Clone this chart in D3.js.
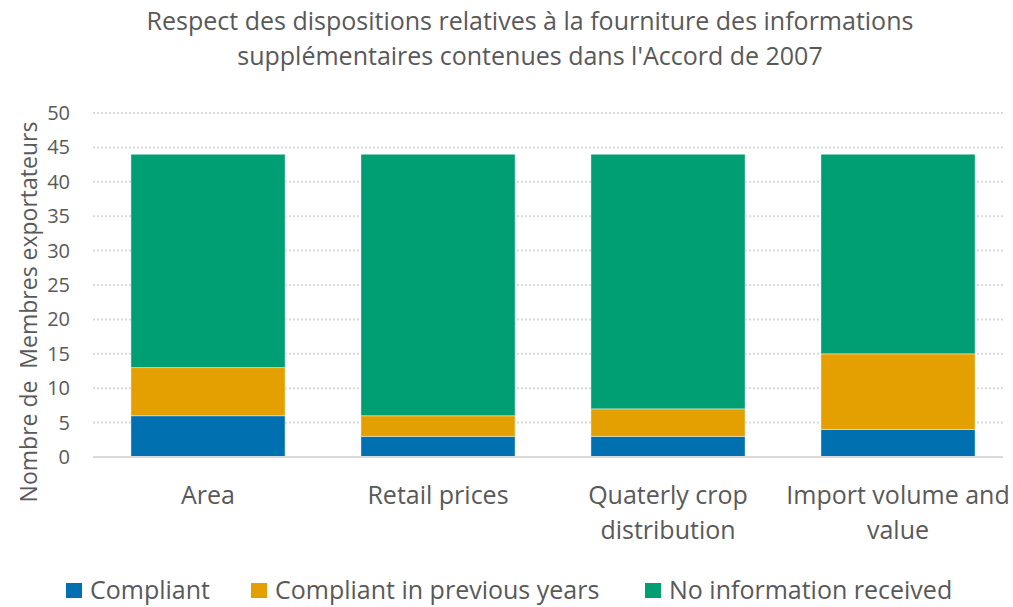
<!DOCTYPE html>
<html>
<head>
<meta charset="utf-8">
<script src="https://cdn.jsdelivr.net/npm/d3@7"></script>
<style>
  body { margin: 0; background: #fff; }
  svg text { font-family: "Open Sans", sans-serif; fill: #595959; }
</style>
</head>
<body>
<div id="chart"></div>
<script>
var categories = [["Area"], ["Retail prices"], ["Quaterly crop", "distribution"], ["Import volume and", "value"]];
var seriesNames = ["Compliant", "Compliant in previous years", "No information received"];
var compliant = [6, 3, 3, 4];
var compliantPrevious = [7, 3, 4, 11];
var noInformation = [31, 38, 37, 29];
var yTicks = [0, 5, 10, 15, 20, 25, 30, 35, 40, 45, 50];
var colors = ["#0070B0", "#E3A000", "#009E73"];

var width = 1013, height = 607;
var svg = d3.select("#chart").append("svg")
  .attr("width", width)
  .attr("height", height);

// title
svg.append("text")
  .attr("text-anchor", "middle")
  .style("font-size", "25px")
  .selectAll("tspan")
  .data(["Respect des dispositions relatives à la fourniture des informations",
         "supplémentaires contenues dans l'Accord de 2007"])
  .enter().append("tspan")
    .attr("x", 530)
    .attr("y", function(d, i){ return 30 + i * 35; })
    .text(function(d){ return d; });

var x = d3.scaleBand()
  .domain(d3.range(categories.length))
  .range([93, 1013])
  .paddingInner(0.33)
  .paddingOuter(0.165);

var y = d3.scaleLinear().domain([0, 50]).range([457, 113]);

// gridlines
svg.append("g").selectAll("line")
  .data(yTicks.filter(function(d){ return d > 0; }))
  .enter().append("line")
    .attr("x1", 93).attr("x2", 1003)
    .attr("y1", function(d){ return y(d); })
    .attr("y2", function(d){ return y(d); })
    .attr("stroke", "#d9d9d9")
    .attr("stroke-width", 2)
    .attr("stroke-dasharray", "2,2");

// y tick labels
svg.append("g").selectAll("text")
  .data(yTicks)
  .enter().append("text")
    .attr("x", 70)
    .attr("y", function(d){ return y(d); })
    .attr("dy", "0.35em")
    .attr("text-anchor", "end")
    .style("font-size", "20px")
    .text(function(d){ return d; });

// y axis title
svg.append("text")
  .attr("transform", "translate(29,312) rotate(-90)")
  .attr("text-anchor", "middle")
  .attr("dy", "0.35em")
  .style("font-size", "23px")
  .attr("xml:space", "preserve")
  .text("Nombre de  Membres exportateurs");

// stacked bars
var rows = categories.map(function(c, i){
  return {i: i, a: compliant[i], b: compliantPrevious[i], c: noInformation[i]};
});
var stack = d3.stack().keys(["a", "b", "c"])(rows);

svg.append("g").selectAll("g")
  .data(stack)
  .enter().append("g")
    .attr("fill", function(d, i){ return colors[i]; })
  .selectAll("rect")
  .data(function(d){ return d; })
  .enter().append("rect")
    .attr("x", function(d){ return x(d.data.i); })
    .attr("width", x.bandwidth())
    .attr("y", function(d){ return y(d[1]); })
    .attr("height", function(d){ return y(d[0]) - y(d[1]); })
    .attr("stroke", "#ffffff")
    .attr("stroke-opacity", 0.4)
    .attr("stroke-width", 1);

// baseline
svg.append("line")
  .attr("x1", 93).attr("x2", 1003)
  .attr("y1", y(0)).attr("y2", y(0))
  .attr("stroke", "#d9d9d9")
  .attr("stroke-width", 2);

// category labels
var catLabels = svg.append("g").selectAll("text")
  .data(categories)
  .enter().append("text")
    .attr("text-anchor", "middle")
    .style("font-size", "25px");
catLabels.selectAll("tspan")
  .data(function(d, i){ return d.map(function(t){ return {t: t, i: i}; }); })
  .enter().append("tspan")
    .attr("x", function(d){ return x(d.i) + x.bandwidth() / 2; })
    .attr("y", function(d, j){ return 504 + j * 35; })
    .text(function(d){ return d.t; });

// legend
var legendX = [66, 251, 645];
var legend = svg.append("g").selectAll("g")
  .data(seriesNames)
  .enter().append("g")
    .attr("transform", function(d, i){ return "translate(" + legendX[i] + ",590)"; });
legend.append("rect")
  .attr("x", 0).attr("y", -7)
  .attr("width", 16).attr("height", 15)
  .attr("fill", function(d, i){ return colors[i]; });
legend.append("text")
  .attr("x", 24)
  .attr("dy", "0.35em")
  .style("font-size", "25px")
  .text(function(d){ return d; });
</script>
</body>
</html>
